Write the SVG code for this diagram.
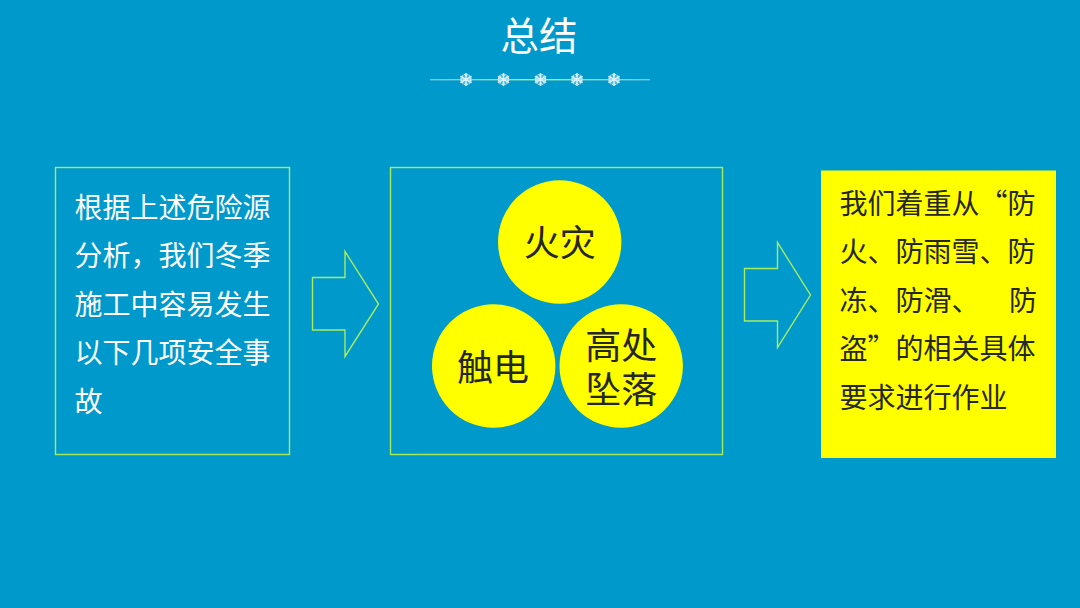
<svg xmlns="http://www.w3.org/2000/svg" width="1080" height="608" viewBox="0 0 1080 608">
<defs>
<linearGradient id="lg" x1="0" x2="1" y1="0" y2="0"><stop offset="0" stop-color="#a8dce8" stop-opacity=".7"/><stop offset=".5" stop-color="#a8f0a0"/><stop offset="1" stop-color="#a8dce8" stop-opacity=".7"/></linearGradient>
<g id="flake"><circle r="6" fill="#cfeef5" opacity=".35"/><g stroke="#d8f2f7" stroke-width="1.500" fill="none"><path d="M0-6.500V6.500M-5.600-3.200L5.600 3.200M-5.600 3.200L5.600-3.200"/><path d="M-2-5.500L0-3.500L2-5.500M-2 5.500L0 3.500L2 5.500M-5.500-.8L-3-1.700L-3.700-4M5.500-.8L3-1.700L3.700-4M-5.500.8L-3 1.700L-3.700 4M5.500.8L3 1.700L3.700 4" stroke-width="1"/></g></g>
</defs>
<style>
text{font-family:"Noto Sans CJK SC","Liberation Sans",sans-serif;}
.o{fill:none;stroke:#a8ec5c;stroke-width:1.400}
.b{font-size:28px;fill:#fff}
.y{font-size:28px;fill:#262626}
.c{fill:#ffff00}
.t{font-size:36px;fill:#262626;text-anchor:middle}
</style>
<rect width="1080" height="608" fill="#0099cc"/>
<g id="title">
<text x="539" y="50" font-size="38.500" fill="#fff" text-anchor="middle">总结</text>
<rect x="430" y="79" width="220" height="1.400" fill="url(#lg)"/>
<use href="#flake" x="466" y="79.500"/><use href="#flake" x="503.500" y="79.500"/><use href="#flake" x="540.500" y="79.500"/><use href="#flake" x="577" y="79.500"/><use href="#flake" x="614" y="79.500"/>
</g>
<g id="left-box">
<rect class="o" x="55.500" y="167.500" width="234" height="287"/>
<text class="b" x="74.500" y="217.500">根据上述危险源</text>
<text class="b" x="74.500" y="266">分析，我们冬季</text>
<text class="b" x="74.500" y="314.500">施工中容易发生</text>
<text class="b" x="74.500" y="363">以下几项安全事</text>
<text class="b" x="74.500" y="412">故</text>
</g>
<g id="connectors">
<path class="o" d="M312.500 277.500H345V251.500L378.500 304L345 356.500V330H312.500Z"/>
<path class="o" d="M744.500 268.500H777.500V242.500L810.500 295L777.500 347.500V321H744.500Z"/>
</g>
<g id="middle-box">
<rect class="o" x="390.500" y="167.500" width="332" height="287"/>
</g>
<g id="fire"><circle class="c" cx="559.700" cy="242" r="61.700"/><text class="t" x="559.700" y="256">火灾</text></g>
<g id="shock"><circle class="c" cx="493.700" cy="366" r="61.700"/><text class="t" x="493" y="380.500">触电</text></g>
<g id="fall"><circle class="c" cx="621.200" cy="366" r="61.700"/><text class="t" text-anchor="middle"><tspan x="621.200" y="358.500">高处</tspan><tspan x="621.200" y="402.500">坠落</tspan></text></g>
<g id="right-box">
<rect x="821" y="170.500" width="235" height="287.500" fill="#ffff00"/>
<text class="y" x="839.500" y="213.500">我们着重从“防</text>
<text class="y" x="839.500" y="262">火、防雨雪、防</text>
<text class="y" x="839.500" y="310.500">冻、防滑、</text>
<text class="y" x="1009" y="310.500">防</text>
<text class="y" x="839.500" y="359">盗”的相关具体</text>
<text class="y" x="839.500" y="408">要求进行作业</text>
</g>
</svg>
